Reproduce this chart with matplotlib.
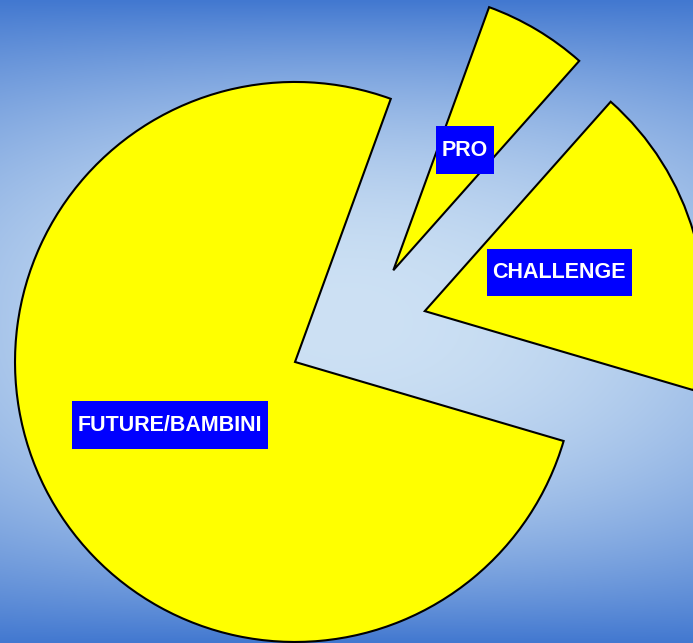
import numpy as np
import matplotlib
matplotlib.use('Agg')
import matplotlib.pyplot as plt
from matplotlib.path import Path

# entries per division
labels = ['FUTURE/BAMBINI', 'CHALLENGE', 'PRO']
counts = [38, 9, 3]

W, H = 693, 643
R_PX = 280.0            # pie radius in pixels
CX, CY = 357.5, 330.4   # pie centre in pixels (from top-left)

fig = plt.figure(figsize=(W / 100, H / 100), dpi=100)
ax = fig.add_axes([0, 0, 1, 1])

x0 = -CX / R_PX
x1 = (W - CX) / R_PX
y1 = CY / R_PX
y0 = -(H - CY) / R_PX

# background: blue gradient, light in the middle, dark at top and bottom
yy, xx = np.mgrid[0:H, 0:W]
dy = np.abs(yy - 321) / 321.0
dx = np.abs(xx - 346) / 346.0
light = np.clip((1 - dy ** 2.2) * (1 - 0.26 * dx ** 2), 0, 1)
dark = np.array([66, 120, 208]) / 255
pale = np.array([205, 225, 244]) / 255
bg = dark + (pale - dark) * light[..., None]
ax.imshow(bg, extent=[x0, x1, y0, y1], aspect='auto', zorder=0)


def label_box(bx, by, width, height, mutation_size):
    padx = 0.28 * mutation_size
    pady = 0.62 * mutation_size
    l, b = bx - padx, by - pady
    r, t = bx + width + padx, by + height + pady
    return Path([(l, b), (r, b), (r, t), (l, t), (l, b)], closed=True)


ax.pie(counts, labels=labels, startangle=70, counterclock=True,
       explode=[0.25, 0.25, 0.25], radius=1, labeldistance=0.5,
       colors=['#ffff00'] * 3,
       wedgeprops=dict(edgecolor='black', linewidth=1.5, zorder=2),
       textprops=dict(ha='center', va='center', color='white',
                      fontsize=15.5, fontweight='bold',
                      family='Liberation Sans', zorder=3,
                      bbox=dict(boxstyle=label_box, fc='#0000ff', ec='none')))

ax.set_xlim(x0, x1)
ax.set_ylim(y0, y1)
ax.set_aspect('auto')
ax.axis('off')

fig.savefig('out.png', dpi=100)
